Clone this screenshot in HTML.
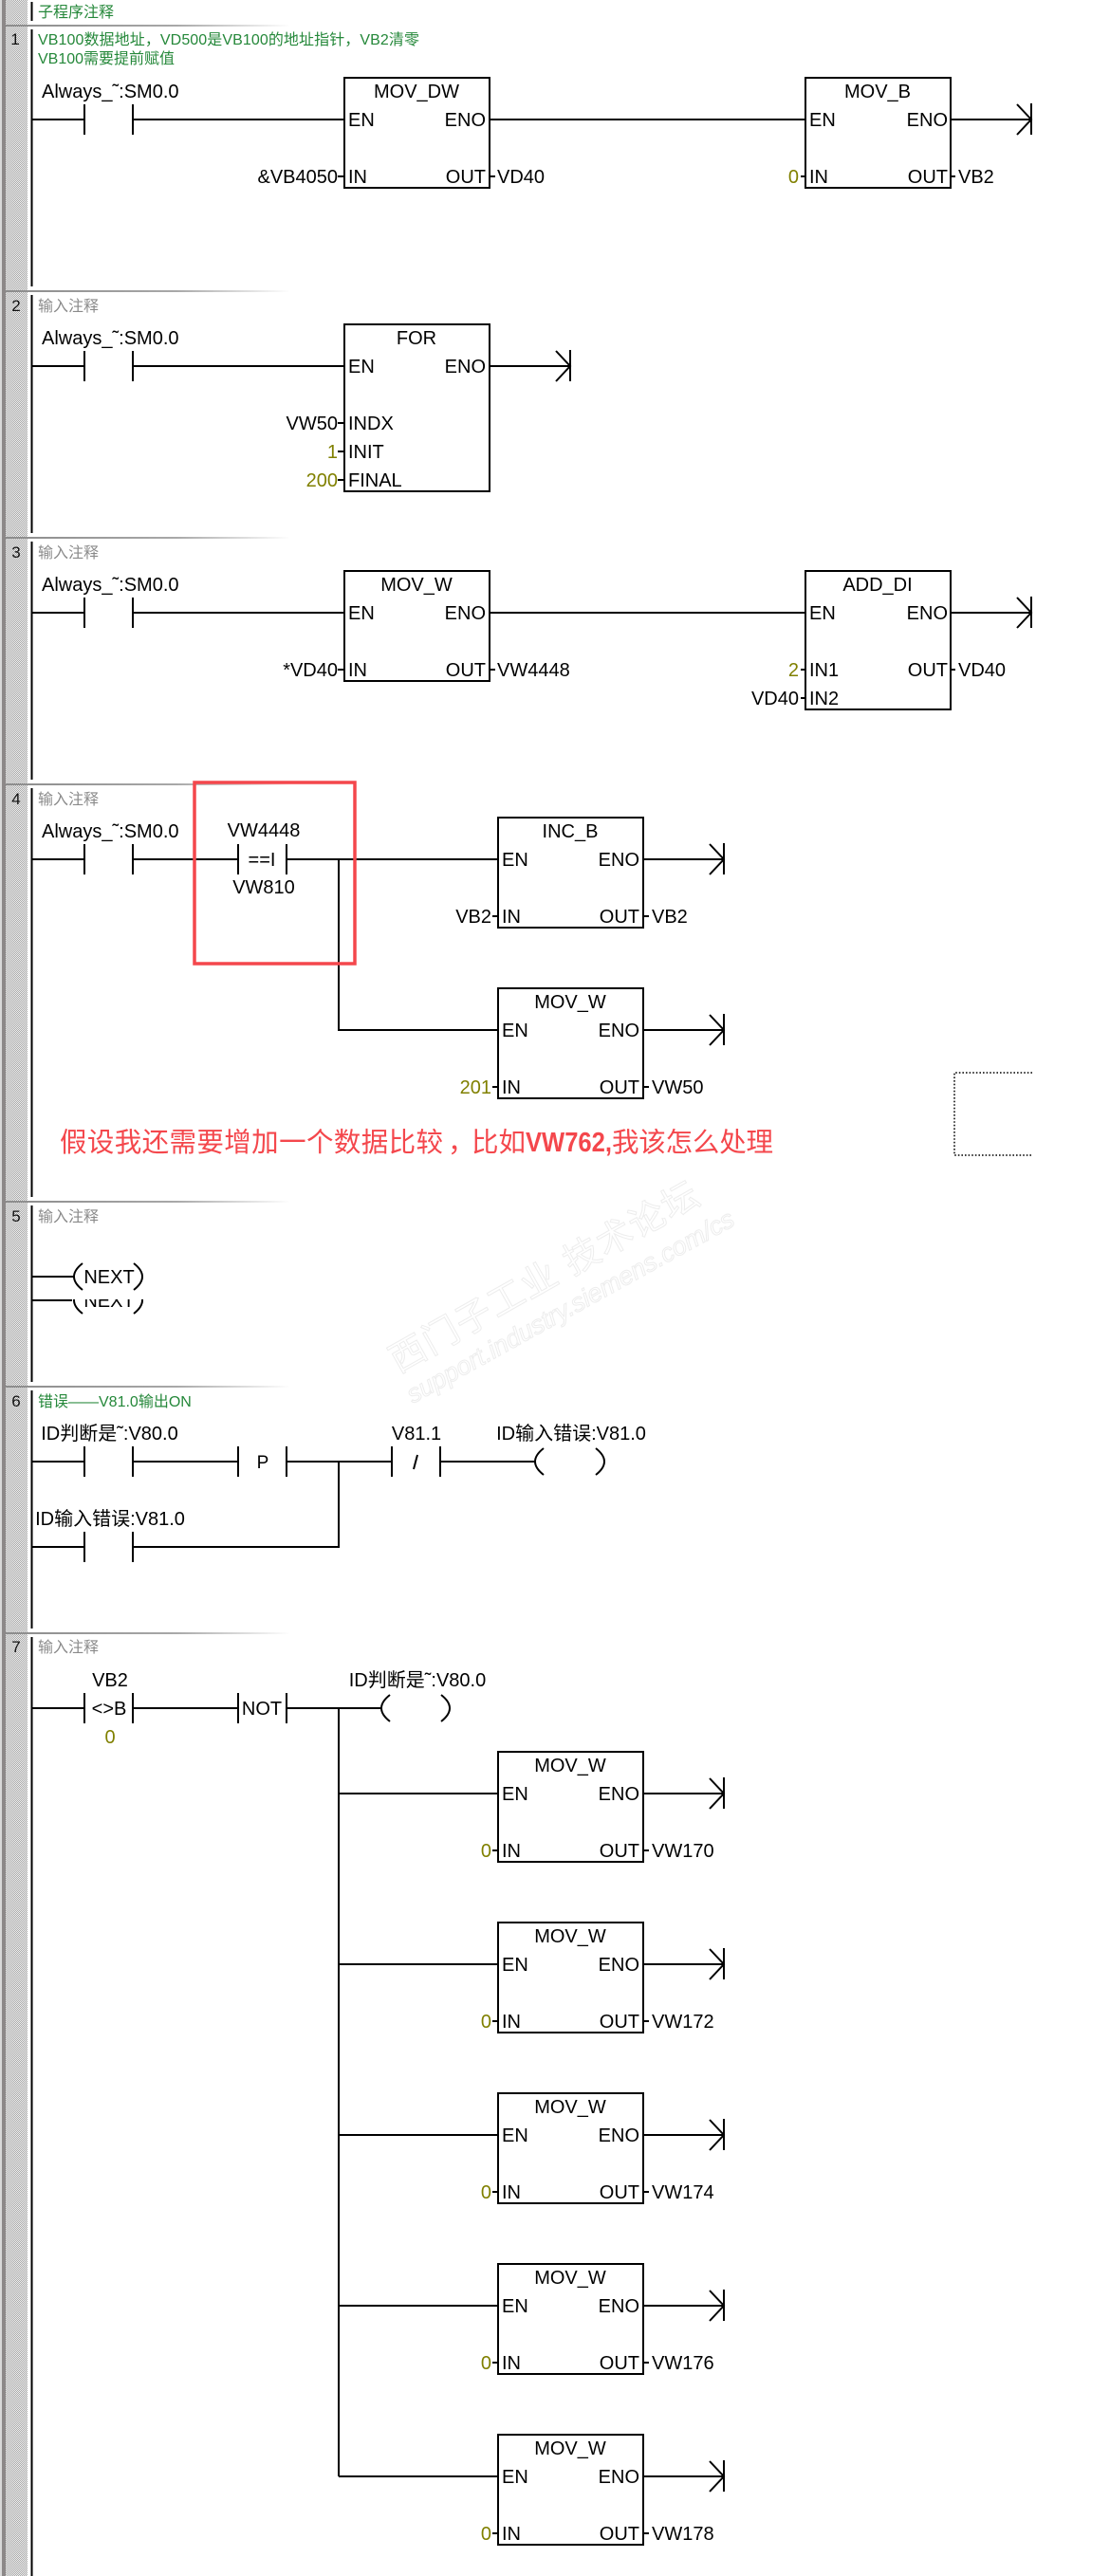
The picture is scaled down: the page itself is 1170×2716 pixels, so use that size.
<!DOCTYPE html>
<html lang="zh">
<head>
<meta charset="utf-8">
<title>梯形图</title>
<style>
html,body{margin:0;padding:0;background:#fff;}
svg{display:block;}
text{font-family:"Liberation Sans","WenQuanYi Zen Hei","Noto Sans CJK SC",sans-serif;font-size:20px;fill:#000;}
.w{fill:none;stroke:#000;stroke-width:2;}
.m{text-anchor:middle;}
.e{text-anchor:end;}
.o{fill:#808000;}
.c{font-size:16px;fill:#8a8a8a;}
.g{font-size:16px;fill:#25883a;}
.n{font-size:17px;text-anchor:middle;fill:#111;}
.wm{fill:#fff;stroke:#ededed;stroke-width:1;}
.red{font-family:"Liberation Sans","Noto Sans CJK SC",sans-serif;font-size:28.5px;fill:#f4474c;}
</style>
</head>
<body>
<svg width="1170" height="2716" viewBox="0 0 1170 2716" xmlns="http://www.w3.org/2000/svg">
<defs>
<pattern id="d" width="2" height="2" patternUnits="userSpaceOnUse"><rect width="2" height="2" fill="#eeeeee"/><rect width="1" height="1" fill="#aaaaaa"/><rect x="1" y="1" width="1" height="1" fill="#aaaaaa"/></pattern>
<linearGradient id="s" x1="0" x2="1" y1="0" y2="0"><stop offset="0" stop-color="#8c8c8c"/><stop offset="0.6" stop-color="#a8a8a8"/><stop offset="1" stop-color="#ffffff"/></linearGradient>
<clipPath id="ghost"><rect x="30" y="1370" width="200" height="30"/></clipPath>
</defs>
<rect width="1170" height="2716" fill="#fff"/>

<!-- sidebar -->
<rect x="0" y="0" width="2" height="2716" fill="#d8d8d8"/>
<rect x="2" y="0" width="4" height="2716" fill="#8c8888"/>
<rect x="6" y="0" width="23" height="2716" fill="url(#d)"/>

<!-- watermark -->
<text class="wm" transform="translate(420,1448) rotate(-29.4)" style="font-size:38px" textLength="367" lengthAdjust="spacing">西门子工业 技术论坛</text>
<text class="wm" transform="translate(435,1480) rotate(-29)" style="font-size:27px;font-style:italic" textLength="390" lengthAdjust="spacing">support.industry.siemens.com/cs</text>

<!-- separators -->
<rect x="6" y="26" width="300" height="2" fill="url(#s)"/>
<rect x="6" y="306" width="300" height="2" fill="url(#s)"/>
<rect x="6" y="566" width="300" height="2" fill="url(#s)"/>
<rect x="6" y="826" width="300" height="2" fill="url(#s)"/>
<rect x="6" y="1266" width="300" height="2" fill="url(#s)"/>
<rect x="6" y="1461" width="300" height="2" fill="url(#s)"/>
<rect x="6" y="1721" width="300" height="2" fill="url(#s)"/>

<!-- rails -->
<path class="w" d="M33.5 2V22M33.5 31V302M33.5 311V562M33.5 571V822M33.5 831V1262M33.5 1271V1457M33.5 1466V1717M33.5 1726V2716"/>

<!-- numbers & comments -->
<text class="g" x="40" y="18">子程序注释</text>
<text class="n" x="16" y="47">1</text>
<text class="g" x="40" y="47" textLength="402" lengthAdjust="spacing">VB100数据地址，VD500是VB100的地址指针，VB2清零</text>
<text class="g" x="40" y="67">VB100需要提前赋值</text>
<text class="n" x="17" y="328">2</text>
<text class="c" x="40" y="328">输入注释</text>
<text class="n" x="17" y="588">3</text>
<text class="c" x="40" y="588">输入注释</text>
<text class="n" x="17" y="848">4</text>
<text class="c" x="40" y="848">输入注释</text>
<text class="n" x="17" y="1288">5</text>
<text class="c" x="40" y="1288">输入注释</text>
<text class="n" x="17" y="1483">6</text>
<text class="g" x="40" y="1483">错误——V81.0输出ON</text>
<text class="n" x="17" y="1742">7</text>
<text class="c" x="40" y="1742">输入注释</text>

<!-- Rung 1 -->
<g transform="translate(0,126)">
<path class="w" d="M34 0H89M89 -16V16M140 -16V16M140 0H363M516 0H849M1003 0H1087M1072 -16L1087 0L1072 16M1087 -17V16"/>
<rect class="w" x="363" y="-44" width="153" height="116"/>
<rect class="w" x="849" y="-44" width="153" height="116"/>
<path class="w" d="M356 60H363M516 60H522M844 60H849M1002 60H1007"/>
<text x="44" y="-23">Always_˜:SM0.0</text>
<text class="m" x="439" y="-23">MOV_DW</text>
<text x="367" y="7">EN</text><text class="e" x="512" y="7">ENO</text>
<text x="367" y="67">IN</text><text class="e" x="512" y="67">OUT</text>
<text class="e" x="356" y="67">&amp;VB4050</text>
<text x="524" y="67">VD40</text>
<text class="m" x="925" y="-23">MOV_B</text>
<text x="853" y="7">EN</text><text class="e" x="999" y="7">ENO</text>
<text x="853" y="67">IN</text><text class="e" x="999" y="67">OUT</text>
<text class="e o" x="842" y="67">0</text>
<text x="1010" y="67">VB2</text>
</g>

<!-- Rung 2 -->
<g transform="translate(0,386)">
<path class="w" d="M34 0H89M89 -16V16M140 -16V16M140 0H363M516 0H601M586 -16L601 0L586 16M601 -17V16"/>
<rect class="w" x="363" y="-44" width="153" height="176"/>
<path class="w" d="M356 60H363M356 90H363M356 120H363"/>
<text x="44" y="-23">Always_˜:SM0.0</text>
<text class="m" x="439" y="-23">FOR</text>
<text x="367" y="7">EN</text><text class="e" x="512" y="7">ENO</text>
<text x="367" y="67">INDX</text><text x="367" y="97">INIT</text><text x="367" y="127">FINAL</text>
<text class="e" x="356" y="67">VW50</text>
<text class="e o" x="356" y="97">1</text>
<text class="e o" x="356" y="127">200</text>
</g>

<!-- Rung 3 -->
<g transform="translate(0,646)">
<path class="w" d="M34 0H89M89 -16V16M140 -16V16M140 0H363M516 0H849M1003 0H1087M1072 -16L1087 0L1072 16M1087 -17V16"/>
<rect class="w" x="363" y="-44" width="153" height="116"/>
<rect class="w" x="849" y="-44" width="153" height="146"/>
<path class="w" d="M356 60H363M516 60H522M844 60H849M844 90H849M1002 60H1007"/>
<text x="44" y="-23">Always_˜:SM0.0</text>
<text class="m" x="439" y="-23">MOV_W</text>
<text x="367" y="7">EN</text><text class="e" x="512" y="7">ENO</text>
<text x="367" y="67">IN</text><text class="e" x="512" y="67">OUT</text>
<text class="e" x="356" y="67">*VD40</text>
<text x="524" y="67">VW4448</text>
<text class="m" x="925" y="-23">ADD_DI</text>
<text x="853" y="7">EN</text><text class="e" x="999" y="7">ENO</text>
<text x="853" y="67">IN1</text><text class="e" x="999" y="67">OUT</text>
<text x="853" y="97">IN2</text>
<text class="e o" x="842" y="67">2</text>
<text class="e" x="842" y="97">VD40</text>
<text x="1010" y="67">VD40</text>
</g>

<!-- Rung 4 -->
<g transform="translate(0,906)">
<path class="w" d="M34 0H89M89 -16V16M140 -16V16M140 0H251M251 -16V16M302 -16V16M302 0H525M357 0V180H525M678 0H763M748 -16L763 0L748 16M763 -17V16"/>
<rect class="w" x="525" y="-44" width="153" height="116"/>
<path class="w" d="M519 60H525M678 60H684"/>
<text x="44" y="-23">Always_˜:SM0.0</text>
<text class="m" x="278" y="-24">VW4448</text>
<text class="m" x="276" y="7">==I</text>
<text class="m" x="278" y="36">VW810</text>
<text class="m" x="601" y="-23">INC_B</text>
<text x="529" y="7">EN</text><text class="e" x="674" y="7">ENO</text>
<text x="529" y="67">IN</text><text class="e" x="674" y="67">OUT</text>
<text class="e" x="518" y="67">VB2</text>
<text x="687" y="67">VB2</text>
</g>
<g transform="translate(0,1086)">
<path class="w" d="M678 0H763M748 -16L763 0L748 16M763 -17V16"/>
<rect class="w" x="525" y="-44" width="153" height="116"/>
<path class="w" d="M519 60H525M678 60H684"/>
<text class="m" x="601" y="-23">MOV_W</text>
<text x="529" y="7">EN</text><text class="e" x="674" y="7">ENO</text>
<text x="529" y="67">IN</text><text class="e" x="674" y="67">OUT</text>
<text class="e o" x="518" y="67">201</text>
<text x="687" y="67">VW50</text>
</g>

<!-- dotted box -->
<path fill="none" stroke="#000" stroke-width="1.5" stroke-dasharray="1.6 2" d="M1088 1131H1006V1218H1088"/>

<!-- red note -->
<text class="red" x="63" y="1214" textLength="404" lengthAdjust="spacing">假设我还需要增加一个数据比较</text>
<text class="red" x="472" y="1214">，</text>
<text class="red" x="497" y="1214">比如</text>
<text class="red" x="554" y="1214" style="font-weight:bold" textLength="91" lengthAdjust="spacingAndGlyphs">VW762,</text>
<text class="red" x="645" y="1214" textLength="170" lengthAdjust="spacing">我该怎么处理</text>

<!-- Rung 5 -->
<g transform="translate(0,1346)">
<path class="w" d="M34 0H78M87 -14Q78 -7 78 0Q78 7 87 14M141 -14Q150 -7 150 0Q150 7 141 14"/>
<text class="m" x="115" y="7">NEXT</text>
</g>
<path class="w" d="M34 1371H76"/>
<g clip-path="url(#ghost)">
<g transform="translate(0,1371)">
<path class="w" d="M87 -14Q78 -7 78 0Q78 7 87 14M141 -14Q150 -7 150 0Q150 7 141 14"/>
<text class="m" x="115" y="7">NEXT</text>
</g>
</g>

<!-- Rung 6 -->
<g transform="translate(0,1541)">
<path class="w" d="M34 0H89M89 -16V16M140 -16V16M140 0H251M251 -16V16M302 -16V16M302 0H413M413 -16V16M464 -16V16M464 0H564M573 -14Q564 -7 564 0Q564 7 573 14M628 -14Q637 -7 637 0Q637 7 628 14M357 0V90H140M34 90H89M89 74V106M140 74V106"/>
<path class="w" d="M440 -7L436 8"/>
<text class="m" x="277" y="7" style="font-size:19px">P</text>
<text class="m" x="115.500" y="-23">ID判断是˜:V80.0</text>
<text class="m" x="439" y="-23">V81.1</text>
<text class="m" x="602" y="-23">ID输入错误:V81.0</text>
<text class="m" x="116" y="67">ID输入错误:V81.0</text>
</g>

<!-- Rung 7 -->
<g transform="translate(0,1801)">
<path class="w" d="M34 0H89M89 -16V16M140 -16V16M140 0H251M251 -16V16M302 -16V16M302 0H402M411 -14Q402 -7 402 0Q402 7 411 14M465 -14Q474 -7 474 0Q474 7 465 14M357 0V810"/>
<text class="m" x="116" y="-23">VB2</text>
<text class="m" x="115" y="7">&lt;&gt;B</text>
<text class="m o" x="116" y="37">0</text>
<text class="m" x="276" y="7">NOT</text>
<text class="m" x="440" y="-23">ID判断是˜:V80.0</text>
</g>
<g transform="translate(0,1891)">
<path class="w" d="M357 0H525M678 0H763M748 -16L763 0L748 16M763 -17V16"/>
<rect class="w" x="525" y="-44" width="153" height="116"/>
<path class="w" d="M519 60H525M678 60H684"/>
<text class="m" x="601" y="-23">MOV_W</text>
<text x="529" y="7">EN</text><text class="e" x="674" y="7">ENO</text>
<text x="529" y="67">IN</text><text class="e" x="674" y="67">OUT</text>
<text class="e o" x="518" y="67">0</text>
<text x="687" y="67">VW170</text>
</g>
<g transform="translate(0,2071)">
<path class="w" d="M357 0H525M678 0H763M748 -16L763 0L748 16M763 -17V16"/>
<rect class="w" x="525" y="-44" width="153" height="116"/>
<path class="w" d="M519 60H525M678 60H684"/>
<text class="m" x="601" y="-23">MOV_W</text>
<text x="529" y="7">EN</text><text class="e" x="674" y="7">ENO</text>
<text x="529" y="67">IN</text><text class="e" x="674" y="67">OUT</text>
<text class="e o" x="518" y="67">0</text>
<text x="687" y="67">VW172</text>
</g>
<g transform="translate(0,2251)">
<path class="w" d="M357 0H525M678 0H763M748 -16L763 0L748 16M763 -17V16"/>
<rect class="w" x="525" y="-44" width="153" height="116"/>
<path class="w" d="M519 60H525M678 60H684"/>
<text class="m" x="601" y="-23">MOV_W</text>
<text x="529" y="7">EN</text><text class="e" x="674" y="7">ENO</text>
<text x="529" y="67">IN</text><text class="e" x="674" y="67">OUT</text>
<text class="e o" x="518" y="67">0</text>
<text x="687" y="67">VW174</text>
</g>
<g transform="translate(0,2431)">
<path class="w" d="M357 0H525M678 0H763M748 -16L763 0L748 16M763 -17V16"/>
<rect class="w" x="525" y="-44" width="153" height="116"/>
<path class="w" d="M519 60H525M678 60H684"/>
<text class="m" x="601" y="-23">MOV_W</text>
<text x="529" y="7">EN</text><text class="e" x="674" y="7">ENO</text>
<text x="529" y="67">IN</text><text class="e" x="674" y="67">OUT</text>
<text class="e o" x="518" y="67">0</text>
<text x="687" y="67">VW176</text>
</g>
<g transform="translate(0,2611)">
<path class="w" d="M357 0H525M678 0H763M748 -16L763 0L748 16M763 -17V16"/>
<rect class="w" x="525" y="-44" width="153" height="116"/>
<path class="w" d="M519 60H525M678 60H684"/>
<text class="m" x="601" y="-23">MOV_W</text>
<text x="529" y="7">EN</text><text class="e" x="674" y="7">ENO</text>
<text x="529" y="67">IN</text><text class="e" x="674" y="67">OUT</text>
<text class="e o" x="518" y="67">0</text>
<text x="687" y="67">VW178</text>
</g>

<!-- red highlight -->
<rect x="205" y="825" width="169" height="191" fill="none" stroke="#f4474c" stroke-width="3.500"/>
</svg>
</body>
</html>
